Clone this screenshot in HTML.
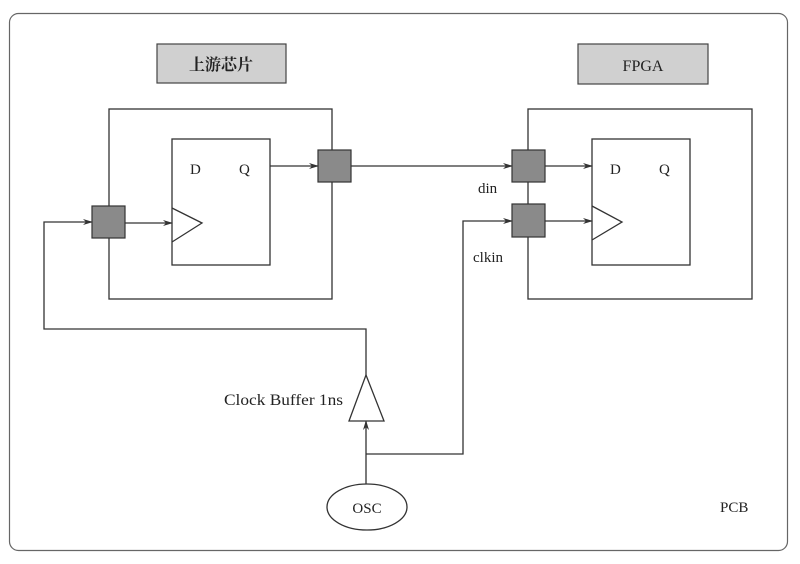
<!DOCTYPE html>
<html><head><style>
html,body{margin:0;padding:0;background:#fff;}
svg{display:block;}
text{font-family:"Liberation Serif","Noto Serif CJK SC",serif;fill:#222;}
</style></head><body>
<svg width="800" height="564" viewBox="0 0 800 564" xmlns="http://www.w3.org/2000/svg">
<defs>
<marker id="a" markerWidth="10" markerHeight="8" refX="9" refY="4" orient="auto" markerUnits="userSpaceOnUse">
<path d="M0,1 L10,4 L0,7 L3,4 Z" fill="#333"/>
</marker>
</defs>
<rect x="0" y="0" width="800" height="564" fill="#fff"/>
<rect x="9.5" y="13.5" width="778" height="537" rx="9" fill="none" stroke="#666" stroke-width="1.2"/>
<g stroke="#333" stroke-width="1.3" fill="none">
<rect x="109" y="109" width="223" height="190"/>
<rect x="172" y="139" width="98" height="126"/>
<polyline points="172,208 202,223 172,242"/>
<rect x="528" y="109" width="224" height="190"/>
<rect x="592" y="139" width="98" height="126"/>
<polyline points="592,206 622,222 592,240"/>
<line x1="270" y1="166" x2="318" y2="166" marker-end="url(#a)"/>
<line x1="125" y1="223" x2="172" y2="223" marker-end="url(#a)"/>
<line x1="351" y1="166" x2="512" y2="166" marker-end="url(#a)"/>
<line x1="545" y1="166" x2="592" y2="166" marker-end="url(#a)"/>
<line x1="545" y1="221" x2="592" y2="221" marker-end="url(#a)"/>
<polyline points="366,375 366,329 44,329 44,222 92,222" marker-end="url(#a)"/>
<polyline points="366,454 463,454 463,221 512,221" marker-end="url(#a)"/>
<line x1="366" y1="485" x2="366" y2="421" marker-end="url(#a)"/>
<polygon points="366,375 349,421 384,421" fill="#fff"/>
<ellipse cx="367" cy="507" rx="40" ry="23" fill="#fff"/>
</g>
<g fill="#8a8a8a" stroke="#333" stroke-width="1.2">
<rect x="92" y="206" width="33" height="32"/>
<rect x="318" y="150" width="33" height="32"/>
<rect x="512" y="150" width="33" height="32"/>
<rect x="512" y="204" width="33" height="33"/>
</g>
<g fill="#d0d0d0" stroke="#444" stroke-width="1.2">
<rect x="157" y="44" width="129" height="39"/>
<rect x="578" y="44" width="130" height="40"/>
</g>
<text x="221" y="70" font-size="16" text-anchor="middle" font-weight="bold">上游芯片</text>
<text x="643" y="71" font-size="16" text-anchor="middle">FPGA</text>
<g font-size="15">
<text x="190" y="174">D</text>
<text x="239" y="174">Q</text>
<text x="610" y="174">D</text>
<text x="659" y="174">Q</text>
<text x="478" y="193">din</text>
<text x="473" y="262">clkin</text>
<text x="224" y="405" font-size="16" textLength="119" lengthAdjust="spacingAndGlyphs">Clock Buffer 1ns</text>
<text x="367" y="513" text-anchor="middle">OSC</text>
<text x="720" y="512">PCB</text>
</g>
</svg>
</body></html>
